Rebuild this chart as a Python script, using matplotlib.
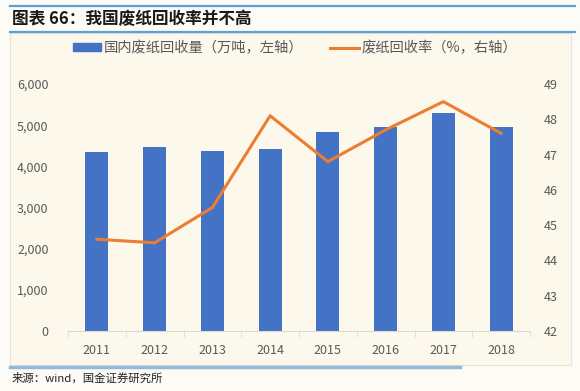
import matplotlib.pyplot as plt
import matplotlib.patches as mpatches
import matplotlib.lines as mlines
from matplotlib.ticker import FuncFormatter
import numpy as np

plt.rcParams['font.family'] = ['Noto Sans CJK SC', 'DejaVu Sans']

years = ['2011', '2012', '2013', '2014', '2015', '2016', '2017', '2018']
volume = [4347, 4472, 4377, 4419, 4832, 4963, 5285, 4964]      # 万吨
rate = [44.6, 44.5, 45.5, 48.1, 46.8, 47.7, 48.5, 47.6]         # %

BLUE = '#4472C4'
ORANGE = '#ED7D31'
GREY = '#595959'
BG = '#fdf8ec'

fig = plt.figure(figsize=(5.8, 3.91), dpi=100)
fig.patch.set_facecolor('#fdfbf5')
W, H = 580, 391

def fx(px):
    return px / W

def fy(py):
    return 1 - py / H

# chart frame
fig.patches.append(mpatches.Rectangle((fx(10), fy(365)), fx(561), (365 - 33) / H,
                                      transform=fig.transFigure, facecolor=BG,
                                      edgecolor='#e6e2d6', lw=0.8, zorder=-5))
# header / footer rules
fig.add_artist(mlines.Line2D([fx(10), fx(575)], [fy(6), fy(6)], color='#5ba3d6', lw=1.6))
fig.add_artist(mlines.Line2D([fx(10), fx(575)], [fy(32), fy(32)], color='#5ba3d6', lw=1.6))
fig.add_artist(mlines.Line2D([fx(10), fx(460)], [fy(367), fy(367)], color='#8fbbd9', lw=2.5))

fig.text(fx(12), fy(19), '图表 66：我国废纸回收率并不高', fontsize=12, fontweight='bold',
         color='#1a1a1a', va='center', ha='left')
fig.text(fx(12), fy(378), '来源：wind，国金证券研究所', fontsize=8.2, color='#222222',
         va='center', ha='left')

ax = fig.add_axes([fx(68), fy(331), fx(530 - 68), (331 - 84) / H])
ax.set_facecolor('none')
x = np.arange(len(years))
ax.bar(x, volume, width=0.4, color=BLUE, zorder=2)
ax.set_xlim(-0.5, len(years) - 0.5)
ax.set_ylim(0, 6000)
ax.set_yticks(range(0, 6001, 1000))
ax.yaxis.set_major_formatter(FuncFormatter(lambda v, p: f'{int(v):,}'))
ax.set_xticks(x)
ax.set_xticklabels(years)
ax.set_xticks(np.arange(-0.5, len(years)), minor=True)
ax.tick_params(axis='x', which='major', length=0, pad=9, labelsize=9, labelcolor=GREY)
ax.tick_params(axis='x', which='minor', length=4, color='#d9d9d9', direction='out')
ax.tick_params(axis='y', length=0, pad=14, labelsize=9, labelcolor=GREY)
for s in ['top', 'right', 'left']:
    ax.spines[s].set_visible(False)
ax.spines['bottom'].set_color('#d9d9d9')

ax2 = ax.twinx()
ax2.plot(x, rate, color=ORANGE, lw=2.2, zorder=3)
ax2.set_ylim(42, 49)
ax2.set_yticks(range(42, 50))
ax2.tick_params(axis='y', length=0, pad=10, labelsize=9, labelcolor=GREY)
for s in ['top', 'right', 'left', 'bottom']:
    ax2.spines[s].set_visible(False)

h1 = mpatches.Patch(color=BLUE)
h2 = mlines.Line2D([], [], color=ORANGE, lw=2.2)
fig.legend([h1, h2], ['国内废纸回收量（万吨，左轴）', '废纸回收率（%，右轴）'],
           loc='center left', bbox_to_anchor=(fx(60), fy(48)), ncol=2, frameon=False,
           fontsize=10.3, labelcolor=GREY, handlelength=2.0, handleheight=0.45,
           columnspacing=1.9, handletextpad=0.15)

fig.savefig('out.png', dpi=100, facecolor=fig.get_facecolor())
